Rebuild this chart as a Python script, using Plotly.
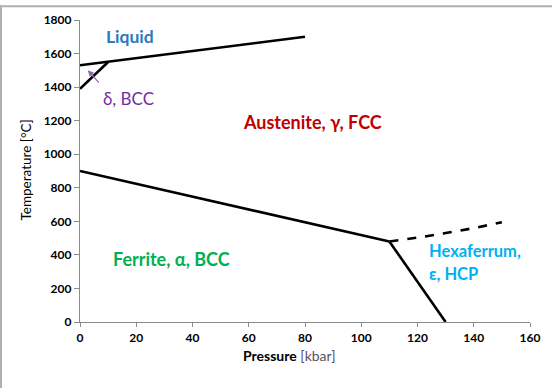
import plotly.graph_objects as go

# Phase boundaries (pressure kbar, temperature °C)
liquid_p = [0, 80]
liquid_t = [1530, 1700]
delta_p = [0, 10]
delta_t = [1390, 1550]
ferrite_p = [0, 110]
ferrite_t = [900, 480]
hcp_p = [110, 130]
hcp_t = [480, 0]
hcp_upper_p = [110, 120, 130, 140, 150]
hcp_upper_t = [480, 503, 530, 560, 595]

x_ticks = [0, 20, 40, 60, 80, 100, 120, 140, 160]
y_ticks = [0, 200, 400, 600, 800, 1000, 1200, 1400, 1600, 1800]

FONT = "Lato"

fig = go.Figure()
solid = dict(color="black", width=2.6)
for px, ty in [(liquid_p, liquid_t), (delta_p, delta_t), (ferrite_p, ferrite_t), (hcp_p, hcp_t)]:
    fig.add_trace(go.Scatter(x=px, y=ty, mode="lines", line=solid, showlegend=False, hoverinfo="skip"))
fig.add_trace(go.Scatter(x=hcp_upper_p, y=hcp_upper_t, mode="lines",
                         line=dict(color="black", width=2.6, dash="dash", shape="spline"),
                         showlegend=False, hoverinfo="skip"))

W, H = 552, 389
L, R, T, B = 80, 22, 15, 67

fig.update_layout(
    width=W, height=H,
    margin=dict(l=L, r=R, t=T, b=B),
    plot_bgcolor="white", paper_bgcolor="white",
    font=dict(family=FONT, color="black"),
    xaxis=dict(range=[0, 160], tickvals=x_ticks, showgrid=False, zeroline=False,
               showline=True, linecolor="#8c8c8c", linewidth=1.2,
               ticks="outside", ticklen=4, tickcolor="#8c8c8c",
               tickfont=dict(family=FONT, size=12, color="black", weight="bold")),
    yaxis=dict(range=[0, 1800], tickvals=y_ticks, showgrid=False, zeroline=False,
               showline=True, linecolor="#8c8c8c", linewidth=1.2,
               ticks="outside", ticklen=5, tickcolor="#8c8c8c",
               tickfont=dict(family=FONT, size=12, color="black", weight="bold")),
)

def px2x(p):
    return (p - L) / (W - L - R)

def px2y(p):
    return (H - B - p) / (H - T - B)

anns = [
    dict(x=17.8, y=1700, text="<b>Liquid</b>", color="#2a7ac0", size=17.5),
    dict(x=82.8, y=1195, text="<b>Austenite, γ, FCC</b>", color="#c00000", size=18),
    dict(x=32.5, y=373, text="<b>Ferrite, α, BCC</b>", color="#00b050", size=18),
    dict(x=17.3, y=1330, text="δ, BCC", color="#7030a0", size=17),
]
for a in anns:
    fig.add_annotation(x=a["x"], y=a["y"], text=a["text"], showarrow=False,
                       font=dict(family=FONT, size=a["size"], color=a["color"]))

fig.add_annotation(x=123.5, y=426, text="<b>Hexaferrum,</b>", xanchor="left", yanchor="middle",
                   showarrow=False, font=dict(family=FONT, size=16.5, color="#00b0f0"))
fig.add_annotation(x=123.5, y=285, text="<b>ε, HCP</b>", xanchor="left", yanchor="middle",
                   showarrow=False, font=dict(family=FONT, size=16.5, color="#00b0f0"))

# arrow for delta
fig.add_annotation(x=2.8, y=1500, ax=7.2, ay=1418, xref="x", yref="y", axref="x", ayref="y",
                   text="", showarrow=True, arrowhead=2, arrowsize=1, arrowwidth=1.2,
                   arrowcolor="#8e63b8")

# axis titles
fig.add_annotation(xref="paper", yref="paper", x=px2x(289), y=px2y(356),
                   xanchor="center", yanchor="middle",
                   text="<b>Pressure</b> <span style='color:#5a5068'>[kbar]</span>",
                   showarrow=False, font=dict(family=FONT, size=14, color="black"))
fig.add_annotation(xref="paper", yref="paper", x=px2x(26), y=px2y(168),
                   xanchor="center", yanchor="middle",
                   text="Temperature [°C]", textangle=-90,
                   showarrow=False, font=dict(family=FONT, size=13.5, color="black"))

# outer frame (left and top gray edges)
fig.add_shape(type="line", xref="paper", yref="paper", x0=px2x(1), x1=px2x(1), y0=px2y(0), y1=px2y(H),
              line=dict(color="#b0b0b0", width=2))
fig.add_shape(type="line", xref="paper", yref="paper", x0=px2x(0), x1=px2x(W), y0=px2y(1), y1=px2y(1),
              line=dict(color="#b0b0b0", width=2))

fig.write_html("out.html", config={"displayModeBar": False},
               post_script="document.body.style.margin='0';document.body.style.overflow='hidden';")
